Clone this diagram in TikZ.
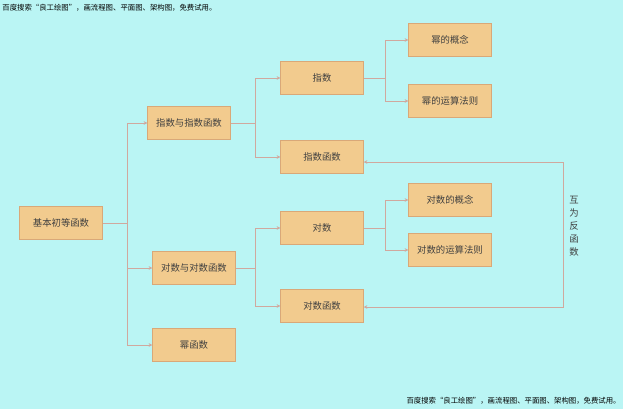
\documentclass[tikz,border=0pt]{standalone}
\usepackage{fontspec}
\newfontfamily\cjk{Noto Sans CJK SC}
\usetikzlibrary{arrows.meta}
\definecolor{bgcol}{HTML}{BAF5F4}
\definecolor{boxfill}{HTML}{F2CB8E}
\definecolor{boxline}{HTML}{D9A878}
\definecolor{linkcol}{HTML}{D0A89E}
\tikzset{
  box/.style={draw=boxline, fill=boxfill, minimum width=83*0.03cm, minimum height=33*0.03cm,
    inner sep=0pt, font=\cjk\fontsize{8}{9}\selectfont, text=black!75},
  link/.style={draw=linkcol, line width=0.6pt, -{Stealth[length=3pt,width=3pt]}},
  wmark/.style={font=\cjk\fontsize{6.3}{7}\selectfont, inner sep=1pt}
}
\begin{document}
\begin{tikzpicture}[x=0.03cm,y=-0.03cm]
\fill[bgcol] (0,0) rectangle (623,409);
\useasboundingbox (0,0) rectangle (623,409);

\node[wmark, anchor=north west] (wm1) at (1,3) {百度搜索“良工绘图”，画流程图、平面图、架构图，免费试用。};
\node[wmark, anchor=south east] (wm2) at (622,406) {百度搜索“良工绘图”，画流程图、平面图、架构图，免费试用。};

% level 1
\node[box] (root) at (61,223) {基本初等函数};
% level 2
\node[box] (zs) at (189,123) {指数与指数函数};
\node[box] (ds) at (194,268) {对数与对数函数};
\node[box] (mf) at (194,345) {幂函数};
% level 3
\node[box] (zsu) at (322,78) {指数};
\node[box] (zsf) at (322,157) {指数函数};
\node[box] (dsu) at (322,228) {对数};
\node[box] (dsf) at (322,306) {对数函数};
% level 4
\node[box] (mgn) at (450,40) {幂的概念};
\node[box] (myf) at (450,101) {幂的运算法则};
\node[box] (dgn) at (450,200) {对数的概念};
\node[box] (dyf) at (450,250) {对数的运算法则};

\foreach \a/\b/\d in {root/zs/25, root/ds/25, root/mf/25,
                      zs/zsu/25, zs/zsf/25, ds/dsu/20, ds/dsf/20,
                      zsu/mgn/22, zsu/myf/22, dsu/dgn/22, dsu/dyf/22}
  \draw[link] (\a.east) -- ++(\d,0) |- (\b.west);

\coordinate (up) at (563,162);
\coordinate (dn) at (563,307);
\draw[link, {Stealth[length=3pt,width=3pt]}-{Stealth[length=3pt,width=3pt]}]
  (zsf.east |- up) -- (up) -- (dn) -- (dsf.east |- dn);
\node[font=\cjk\fontsize{8}{11}\selectfont, text=black!75, align=center] (hw) at (574,226)
  {互\\为\\反\\函\\数};
\end{tikzpicture}
\end{document}
